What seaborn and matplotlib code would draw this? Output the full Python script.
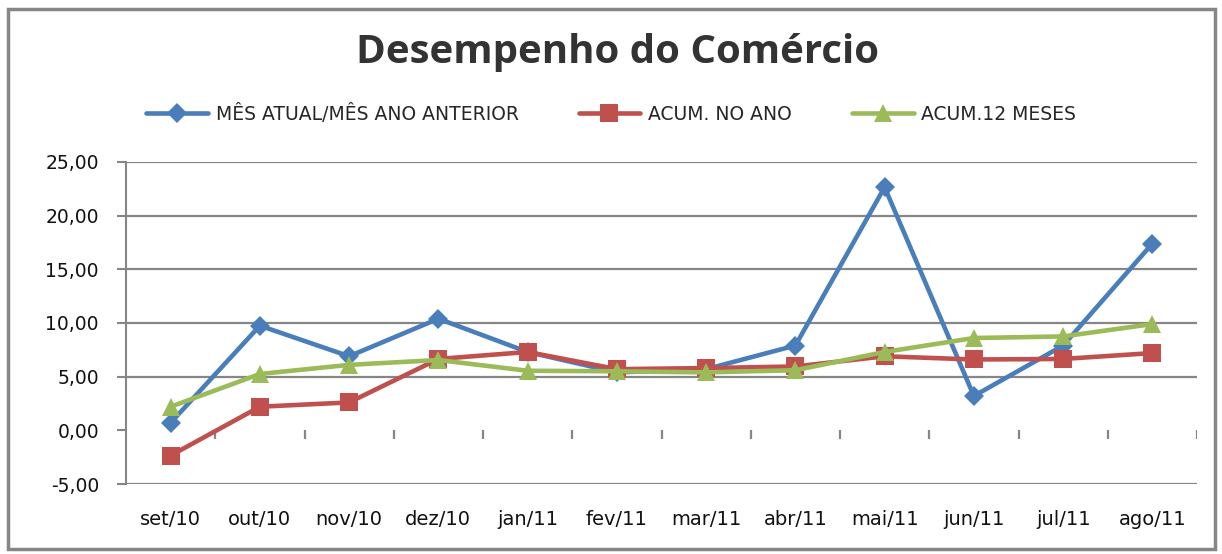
import matplotlib
matplotlib.use("Agg")
import matplotlib.pyplot as plt
import matplotlib.patches as patches
import numpy as np
import seaborn as sns

# Data
meses = ["set/10", "out/10", "nov/10", "dez/10", "jan/11", "fev/11",
         "mar/11", "abr/11", "mai/11", "jun/11", "jul/11", "ago/11"]
mes_atual = [0.7, 9.75, 6.9, 10.4, 7.3, 5.4, 5.7, 7.9, 22.65, 3.2, 7.9, 17.4]
acum_ano = [-2.35, 2.2, 2.6, 6.65, 7.3, 5.7, 5.8, 5.95, 6.9, 6.6, 6.65, 7.2]
acum_12 = [2.2, 5.25, 6.1, 6.55, 5.55, 5.5, 5.4, 5.6, 7.3, 8.6, 8.75, 9.9]
series_nomes = ["MÊS ATUAL/MÊS ANO ANTERIOR", "ACUM. NO ANO", "ACUM.12 MESES"]
y_ticks = [-5, 0, 5, 10, 15, 20, 25]

sns.set_theme(style="white")
plt.rcParams["font.family"] = ["DejaVu Sans"]

GRAY = "#868686"
cores = ["#4A7EBB", "#C0504D", "#9BBB59"]
marcadores = ["D", "s", "^"]
tamanhos = [10, 13, 13]

fig = plt.figure(figsize=(12.22, 5.54), dpi=100)
ax = fig.add_axes([126 / 1222, 1 - 484 / 554, (1197 - 126) / 1222, (484 - 162) / 554])

# outer chart border
fig.patches.append(
    patches.Rectangle((8 / 1222, 5 / 554), (1215 - 8) / 1222, (545 - 5) / 554,
                      transform=fig.transFigure, fill=False,
                      edgecolor=GRAY, linewidth=2.5)
)

for nome, vals, cor, mk, ms in zip(series_nomes, [mes_atual, acum_ano, acum_12],
                                   cores, marcadores, tamanhos):
    sns.lineplot(x=meses, y=vals, ax=ax, color=cor, marker=mk, markersize=ms,
                 markeredgewidth=0, linewidth=3.3, sort=False, label=nome, zorder=3)

ax.set_ylim(-5, 25)
ax.set_xlim(-0.5, len(meses) - 0.5)
ax.set_yticks(y_ticks)
ax.set_yticklabels([f"{v:.2f}".replace(".", ",") for v in y_ticks])

# horizontal gridlines (none drawn at zero in the original)
for v in y_ticks:
    if v != 0:
        ax.axhline(v, color=GRAY, linewidth=1.6, zorder=1)

# category boundary ticks hanging from the zero line
ax.vlines(np.arange(0.5, len(meses)), -0.85, 0, color=GRAY, linewidth=1.6, zorder=1)

for s in ["top", "right", "bottom"]:
    ax.spines[s].set_visible(False)
ax.spines["left"].set_color(GRAY)
ax.spines["left"].set_linewidth(1.5)

ax.tick_params(axis="y", which="major", left=True, length=6.5, width=1.5,
               color=GRAY, pad=13, labelsize=13.5, labelcolor="#111111")
ax.tick_params(axis="x", which="major", length=0, pad=19, labelsize=14,
               labelcolor="#111111")
ax.set_xlabel("")
ax.set_ylabel("")

handles, labels = ax.get_legend_handles_labels()
ax.get_legend().remove()
fig.legend(handles, labels, loc="center", bbox_to_anchor=(0.5, 1 - 114 / 554),
           ncol=3, frameon=False, fontsize=13.5, handlelength=3.3,
           handletextpad=0.4, columnspacing=3.2)

fig.text(617 / 1222, 1 - 52 / 554, "Desempenho do Comércio", ha="center",
         va="center", fontsize=29, fontweight="bold", color="#333333",
         family=["Open Sans", "DejaVu Sans"])

fig.savefig("out.png", dpi=100, facecolor="white")
